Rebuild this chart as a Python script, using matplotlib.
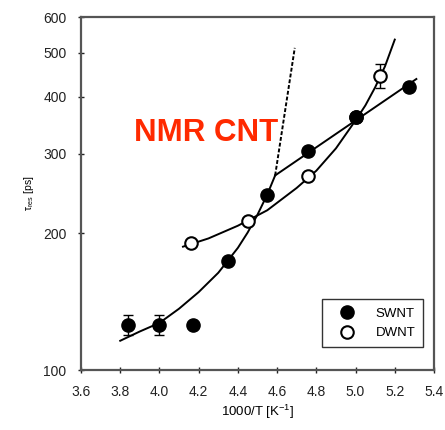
import matplotlib
matplotlib.use("Agg")
import matplotlib.pyplot as plt

# ---- data ----
swnt_x = [3.84, 4.00, 4.17, 4.35, 4.55, 4.76, 5.00, 5.27]
swnt_y = [125.7, 125.7, 125.7, 174, 243, 304, 361, 421]
swnt_err_x = [3.84, 4.00]
swnt_err_y = [125.7, 125.7]
swnt_err = [6.5, 6.5]

dwnt_x = [4.16, 4.45, 4.76, 5.00, 5.125]
dwnt_y = [190.5, 213, 268, 361, 444.6]
dwnt_err_x = [5.125]
dwnt_err_y = [444.6]
dwnt_err = [27]

# fitted curves
swnt_curve_x = [3.80, 3.90, 4.00, 4.10, 4.20, 4.30, 4.40, 4.45, 4.50, 4.55, 4.59]
swnt_curve_y = [116, 121.6, 127, 136.5, 148.5, 163.8, 185.9, 201, 220, 243.8, 268.5]
swnt_dash_x = [4.59, 4.69]
swnt_dash_y = [268.5, 513]
swnt_line_x = [4.59, 5.31]
swnt_line_y = [268.5, 438]

dwnt_curve_x = [4.12, 4.25, 4.40, 4.55, 4.70, 4.80, 4.90, 5.00, 5.05, 5.10, 5.15, 5.20]
dwnt_curve_y = [187, 195, 208, 225, 252, 275, 308, 355, 383, 420, 467, 535]

yticks = [100, 200, 300, 400, 500, 600]
xticks = [3.6, 3.8, 4.0, 4.2, 4.4, 4.6, 4.8, 5.0, 5.2, 5.4]

plt.rcParams['font.family'] = ['Liberation Sans', 'DejaVu Sans']

fig = plt.figure(figsize=(4.45, 4.30), dpi=100)
ax = fig.add_axes([81/445, 1-370/430, 353/445, 353/430])

lw = 1.4
ax.plot(swnt_curve_x, swnt_curve_y, color='black', lw=lw, zorder=2,
        solid_joinstyle='round')
ax.plot(swnt_dash_x, swnt_dash_y, color='black', lw=lw, ls=(0, (2, 1)), zorder=2)
ax.plot(swnt_line_x, swnt_line_y, color='black', lw=lw, zorder=2)
ax.plot(dwnt_curve_x, dwnt_curve_y, color='black', lw=lw, zorder=2,
        solid_joinstyle='round')

ax.errorbar(swnt_err_x, swnt_err_y, yerr=swnt_err, fmt='none', ecolor='black',
            elinewidth=1, capsize=3.5, zorder=3)
ax.errorbar(dwnt_err_x, dwnt_err_y, yerr=dwnt_err, fmt='none', ecolor='black',
            elinewidth=1, capsize=3.5, zorder=3)

ax.plot(dwnt_x, dwnt_y, ls='none', marker='o', ms=9, mfc='white', mec='black',
        mew=1.5, label='DWNT', zorder=4)
ax.plot(swnt_x, swnt_y, ls='none', marker='o', ms=9.5, mfc='black', mec='black',
        label='SWNT', zorder=5)

ax.set_yscale('log')
ax.set_xlim(3.6, 5.4)
ax.set_ylim(100, 600)
ax.set_yticks(yticks)
ax.set_yticklabels([str(v) for v in yticks])
ax.yaxis.set_minor_locator(matplotlib.ticker.NullLocator())
ax.set_xticks(xticks)
ax.set_xticklabels([f"{v:.1f}" for v in xticks])

ax.tick_params(axis='both', which='major', direction='inout', length=5, width=1,
               labelsize=10, pad=8, colors='#222222')
for s in ax.spines.values():
    s.set_color('#555555')
    s.set_linewidth(1.6)

ax.set_xlabel('1000/T [K$^{\\mathregular{-1}}$]', fontsize=9.5, labelpad=3)
ax.set_ylabel(r'$\mathregular{\tau_{res}}$ [ps]', fontsize=7.5, labelpad=5)

handles, labels = ax.get_legend_handles_labels()
order = [labels.index('SWNT'), labels.index('DWNT')]
leg = ax.legend([handles[i] for i in order], [labels[i] for i in order],
                loc='lower right', bbox_to_anchor=(0.969, 0.065),
                fontsize=9.5, frameon=True, fancybox=False, edgecolor='black',
                handlelength=2.6, handletextpad=0.85, borderpad=0.6,
                labelspacing=0.55, borderaxespad=0)
leg.get_frame().set_linewidth(1.0)

ax.text(0.354, 0.670, 'NMR CNT', transform=ax.transAxes, color='#FF2A00',
        fontsize=22.5, fontweight='bold', ha='center', va='center')

fig.savefig('out.png', dpi=100)
